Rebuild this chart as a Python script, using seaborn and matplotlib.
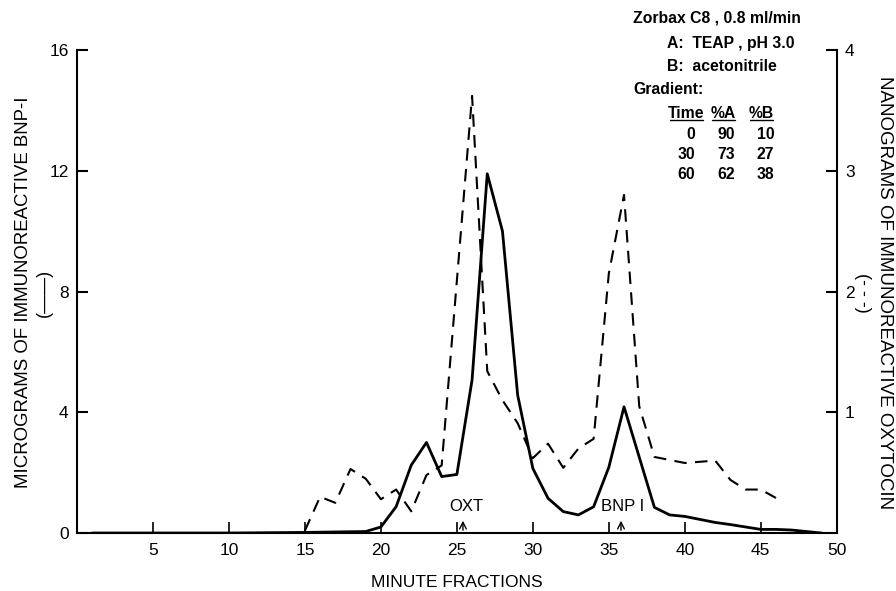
import pandas as pd
import matplotlib
matplotlib.use("Agg")
import matplotlib.pyplot as plt
import seaborn as sns

# 数据：每分钟馏分（横轴）
bnp_x = [1, 5, 10, 15, 19, 20, 21, 22, 23, 24, 25, 26, 27, 28, 29, 30, 31, 32, 33, 34,
         35, 36, 38, 39, 40, 41, 42, 43, 44, 45, 46, 47, 48, 49]
# 免疫反应 BNP-I（微克，左轴，实线）
bnp_ug = [0, 0, 0, 0.02, 0.05, 0.2, 0.87, 2.25, 3.0, 1.87, 1.94, 5.07, 11.9, 10.0, 4.57,
          2.14, 1.15, 0.71, 0.6, 0.87, 2.18, 4.18, 0.85, 0.6, 0.55, 0.45, 0.35, 0.28,
          0.2, 0.12, 0.12, 0.1, 0.05, 0.0]

oxt_x = [15, 16, 17, 18, 19, 20, 21, 22, 23, 24, 26, 27, 28, 29, 30, 31, 32, 33, 34,
         35, 36, 37, 38, 40, 42, 43, 44, 45, 46]
# 免疫反应催产素（纳克，右轴，虚线）
oxt_ng = [0.02, 0.30, 0.25, 0.53, 0.45, 0.28, 0.36, 0.18, 0.48, 0.56, 3.62, 1.34, 1.1,
          0.91, 0.62, 0.74, 0.54, 0.7, 0.78, 2.15, 2.8, 1.05, 0.63, 0.58, 0.6, 0.44,
          0.36, 0.36, 0.29]

x_ticks = [5, 10, 15, 20, 25, 30, 35, 40, 45, 50]
left_ticks = [0, 4, 8, 12, 16]
right_ticks = [1, 2, 3, 4]

gradient_header = ["Time", "%A", "%B"]
gradient_rows = [("0", "90", "10"), ("30", "73", "27"), ("60", "62", "38")]

bnp_df = pd.DataFrame({"x": bnp_x, "y": bnp_ug})
oxt_df = pd.DataFrame({"x": oxt_x, "y": oxt_ng})

sns.set_theme(style="ticks")
plt.rcParams["font.family"] = ["Liberation Sans", "DejaVu Sans"]
plt.rcParams["text.color"] = "black"
plt.rcParams["axes.labelcolor"] = "black"
plt.rcParams["xtick.color"] = "black"
plt.rcParams["ytick.color"] = "black"

fig = plt.figure(figsize=(8.96, 5.91), dpi=100)
ax = fig.add_axes([0.0859, 0.0981, 0.848, 0.8173])
ax2 = ax.twinx()

sns.lineplot(data=bnp_df, x="x", y="y", ax=ax, color="black", linewidth=2.0)
sns.lineplot(data=oxt_df, x="x", y="y", ax=ax2, color="black", linewidth=1.5)
ax2.lines[0].set_linestyle((0, (6, 4)))

ax.set_xlim(0, 50)
ax.set_ylim(0, 16)
ax2.set_ylim(0, 4)
ax.set_xticks(x_ticks)
ax.set_yticks(left_ticks)
ax2.set_yticks(right_ticks)

for a in (ax, ax2):
    a.spines["top"].set_visible(False)
    for s in a.spines.values():
        s.set_linewidth(1.5)
        s.set_color("black")
ax.spines["right"].set_visible(False)
ax2.spines["left"].set_visible(False)
ax2.spines["bottom"].set_visible(False)

ax.tick_params(axis="x", direction="in", length=8, width=1.2, labelsize=12.5, pad=7)
ax.tick_params(axis="y", direction="in", length=8, width=1.5, labelsize=12.5, pad=6)
ax2.tick_params(axis="y", direction="in", length=8, width=1.5, labelsize=12.5, pad=6)

ax.set_xlabel("")
ax.set_ylabel("")
ax2.set_ylabel("")

# 坐标轴标题
fig.text(0.51, 0.015, "MINUTE FRACTIONS", ha="center", va="center", fontsize=12.5)
fig.text(0.026, 0.505, "MICROGRAMS OF IMMUNOREACTIVE BNP-I", rotation=90,
         ha="center", va="center", fontsize=13.4)
fig.text(0.05, 0.505, "(——)", rotation=90, ha="center", va="center", fontsize=13)
fig.text(0.987, 0.505, "NANOGRAMS OF IMMUNOREACTIVE OXYTOCIN", rotation=-90,
         ha="center", va="center", fontsize=13.5)
fig.text(0.963, 0.505, "(- - -)", rotation=-90, ha="center", va="center", fontsize=13)

# 峰位标注
ax.text(25.6, 0.62, "OXT", ha="center", va="bottom", fontsize=12)
ax.annotate("", xy=(25.4, 0.5), xytext=(25.4, 0.0),
            arrowprops=dict(arrowstyle="->", color="black", lw=1))
ax.text(35.9, 0.62, "BNP I", ha="center", va="bottom", fontsize=12)
ax.annotate("", xy=(35.8, 0.5), xytext=(35.8, 0.0),
            arrowprops=dict(arrowstyle="->", color="black", lw=1))

# 色谱条件
fs = 11.3
fig.text(0.707, 0.9695, "Zorbax C8 , 0.8 ml/min", fontsize=fs, fontweight="bold", va="center")
fig.text(0.744, 0.927, "A:  TEAP , pH 3.0", fontsize=fs, fontweight="bold", va="center")
fig.text(0.744, 0.888, "B:  acetonitrile", fontsize=fs, fontweight="bold", va="center")
fig.text(0.707, 0.848, "Gradient:", fontsize=fs, fontweight="bold", va="center")

header_center = [0.7662, 0.8075, 0.8499]
header_half = [0.0184, 0.0128, 0.0128]
for i, h in enumerate(gradient_header):
    fig.text(header_center[i], 0.808, h, fontsize=fs, fontweight="bold",
             va="center", ha="center")
    fig.lines.append(plt.Line2D([header_center[i] - header_half[i],
                                 header_center[i] + header_half[i]],
                                [0.797, 0.797], transform=fig.transFigure,
                                color="black", lw=1))

col_right = [0.776, 0.820, 0.864]
for r, row in enumerate(gradient_rows):
    yy = 0.772 - r * 0.0335
    for i, v in enumerate(row):
        fig.text(col_right[i], yy, v, fontsize=fs, fontweight="bold", va="center",
                 ha="right")

fig.savefig("out.png", dpi=100)
